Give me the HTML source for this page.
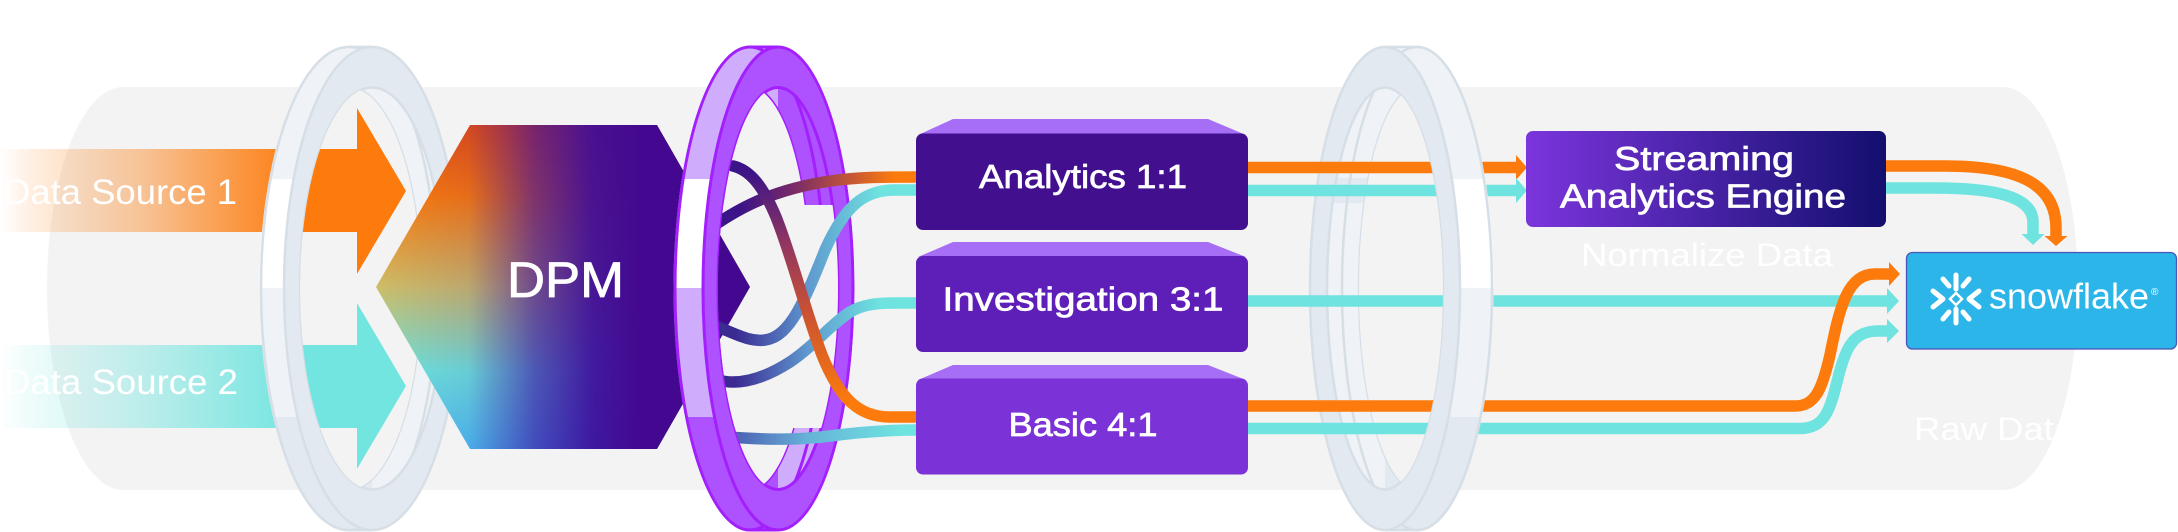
<!DOCTYPE html>
<html><head><meta charset="utf-8">
<style>
html,body{margin:0;padding:0;background:#fff;}
svg{display:block;}
text{font-family:"Liberation Sans",sans-serif;}
</style></head><body>
<svg width="2178" height="532" viewBox="0 0 2178 532" xmlns="http://www.w3.org/2000/svg">
<defs>
  <linearGradient id="gOr" gradientUnits="userSpaceOnUse" x1="0" y1="0" x2="300" y2="0">
    <stop offset="0" stop-color="#fd7b0c" stop-opacity="0"/>
    <stop offset="0.1" stop-color="#fd7b0c" stop-opacity="0.12"/>
    <stop offset="0.47" stop-color="#fd7b0c" stop-opacity="0.4"/>
    <stop offset="0.8" stop-color="#fd7b0c" stop-opacity="0.77"/>
    <stop offset="1" stop-color="#fd7b0c" stop-opacity="1"/>
  </linearGradient>
  <linearGradient id="gTe" gradientUnits="userSpaceOnUse" x1="0" y1="0" x2="300" y2="0">
    <stop offset="0" stop-color="#72e5e0" stop-opacity="0"/>
    <stop offset="0.1" stop-color="#72e5e0" stop-opacity="0.12"/>
    <stop offset="0.47" stop-color="#72e5e0" stop-opacity="0.42"/>
    <stop offset="0.8" stop-color="#72e5e0" stop-opacity="0.78"/>
    <stop offset="1" stop-color="#72e5e0" stop-opacity="1"/>
  </linearGradient>
  <linearGradient id="hexV" gradientUnits="userSpaceOnUse" x1="0" y1="125" x2="0" y2="449">
    <stop offset="0" stop-color="#e8500e"/>
    <stop offset="0.22" stop-color="#fd7b08"/>
    <stop offset="0.5" stop-color="#cdbd68"/>
    <stop offset="0.76" stop-color="#6ee6dc"/>
    <stop offset="1" stop-color="#4cc3f3"/>
  </linearGradient>
  <linearGradient id="hexH" gradientUnits="userSpaceOnUse" x1="376" y1="0" x2="640" y2="0">
    <stop offset="0" stop-color="#3b0ca0" stop-opacity="0"/>
    <stop offset="0.35" stop-color="#3b0ca0" stop-opacity="0.12"/>
    <stop offset="0.6" stop-color="#3b0ca0" stop-opacity="0.65"/>
    <stop offset="0.82" stop-color="#3d0b9a" stop-opacity="0.93"/>
    <stop offset="1" stop-color="#43088f" stop-opacity="1"/>
  </linearGradient>
  <linearGradient id="gL1" gradientUnits="userSpaceOnUse" x1="740" y1="0" x2="895" y2="0">
    <stop offset="0" stop-color="#3b1487"/>
    <stop offset="0.35" stop-color="#7a2a68"/>
    <stop offset="1" stop-color="#fd7b0c"/>
  </linearGradient>
  <linearGradient id="gL2" gradientUnits="userSpaceOnUse" x1="0" y1="172" x2="0" y2="405">
    <stop offset="0" stop-color="#3b1487"/>
    <stop offset="0.3" stop-color="#8f3562"/>
    <stop offset="0.62" stop-color="#cc5430"/>
    <stop offset="1" stop-color="#fd7b0c"/>
  </linearGradient>
  <linearGradient id="gL3" gradientUnits="userSpaceOnUse" x1="735" y1="0" x2="880" y2="0">
    <stop offset="0" stop-color="#3a2a92"/>
    <stop offset="0.5" stop-color="#5f98cf"/>
    <stop offset="1" stop-color="#6ee3df"/>
  </linearGradient>
  <linearGradient id="gL5" gradientUnits="userSpaceOnUse" x1="730" y1="0" x2="900" y2="0">
    <stop offset="0" stop-color="#4a5ab0"/>
    <stop offset="0.45" stop-color="#66b2d8"/>
    <stop offset="1" stop-color="#6ee3df"/>
  </linearGradient>
  <linearGradient id="gEng" gradientUnits="userSpaceOnUse" x1="1526" y1="0" x2="1886" y2="0">
    <stop offset="0" stop-color="#7b35dc"/>
    <stop offset="1" stop-color="#130f6e"/>
  </linearGradient>

  <clipPath id="fi1"><ellipse cx="372" cy="288.5" rx="72" ry="201"/></clipPath>
  <mask id="mk1" maskUnits="userSpaceOnUse" x="0" y="0" width="2178" height="532">
    <ellipse cx="349" cy="288.5" rx="89.5" ry="243" fill="#fff"/>
    <rect x="349" y="45.5" width="23" height="486" fill="#fff"/>
    <ellipse cx="372" cy="288.5" rx="89.5" ry="243" fill="#fff"/>
    <ellipse cx="349" cy="288.5" rx="72" ry="201" fill="#000" clip-path="url(#fi1)"/>
  </mask>
  <clipPath id="cl1"><rect x="0" y="0" width="372" height="532"/></clipPath>

  <clipPath id="fi2"><ellipse cx="778" cy="288.5" rx="60" ry="201"/></clipPath>
  <mask id="mk2" maskUnits="userSpaceOnUse" x="0" y="0" width="2178" height="532">
    <ellipse cx="750" cy="288.5" rx="76.5" ry="243" fill="#fff"/>
    <rect x="750" y="45.5" width="28" height="486" fill="#fff"/>
    <ellipse cx="778" cy="288.5" rx="76.5" ry="243" fill="#fff"/>
    <ellipse cx="750" cy="288.5" rx="60" ry="201" fill="#000" clip-path="url(#fi2)"/>
    <rect x="710" y="205" width="140" height="223" fill="#000" clip-path="url(#fi2)"/>
  </mask>
  <clipPath id="cl2"><rect x="0" y="0" width="778" height="532"/></clipPath>

  <clipPath id="fi3"><ellipse cx="1385" cy="288.5" rx="58" ry="201"/></clipPath>
  <mask id="mk3" maskUnits="userSpaceOnUse" x="0" y="0" width="2178" height="532">
    <ellipse cx="1417" cy="288.5" rx="76.5" ry="243" fill="#fff"/>
    <rect x="1385" y="45.5" width="32" height="486" fill="#fff"/>
    <ellipse cx="1385" cy="288.5" rx="76.5" ry="243" fill="#fff"/>
    <ellipse cx="1417" cy="288.5" rx="58" ry="201" fill="#000" clip-path="url(#fi3)"/>
  </mask>
  <clipPath id="cl3"><rect x="1400" y="0" width="200" height="532"/></clipPath>
</defs>

<path d="M123,87 H2003 A75,201.5 0 0 1 2003,490 H123 A76,201.5 0 0 1 123,87 Z" fill="#f3f3f3"/>

<g id="ring1" mask="url(#mk1)">
  <rect x="250" y="40" width="230" height="495" fill="#eff3f7"/>
  <rect x="250" y="179" width="122" height="109" fill="#ffffff"/>
  <rect x="250" y="417" width="122" height="120" fill="#e3e9f0"/>
  <ellipse cx="349" cy="288.5" rx="88" ry="241.5" fill="none" stroke="#d6dee6" stroke-width="2.5"/>
  <line x1="349" y1="47" x2="372" y2="47" stroke="#d6dee6" stroke-width="2.5"/>
  <line x1="349" y1="530" x2="372" y2="530" stroke="#d6dee6" stroke-width="2.5"/>
  <ellipse cx="349" cy="288.5" rx="72" ry="201" fill="none" stroke="#d6dee6" stroke-width="2.5" clip-path="url(#fi1)"/>
  <path fill-rule="evenodd" fill="#e3e9f0" stroke="#d6dee6" stroke-width="2.5"
    d="M284,288.5 a88,241.5 0 1,0 176,0 a88,241.5 0 1,0 -176,0 Z M300,288.5 a72,201 0 1,0 144,0 a72,201 0 1,0 -144,0 Z"/>
</g>

<g id="ring2" mask="url(#mk2)">
  <rect x="660" y="40" width="210" height="495" fill="#d0acfd"/>
  <rect x="660" y="179" width="118" height="109" fill="#ffffff"/>
  <rect x="660" y="417" width="118" height="120" fill="#ae52ff"/>
  <rect x="778" y="40" width="70" height="165" fill="#ae52ff" clip-path="url(#fi2)"/>
  <ellipse cx="750" cy="288.5" rx="75" ry="241.5" fill="none" stroke="#a31ffc" stroke-width="3"/>
  <line x1="750" y1="47" x2="778" y2="47" stroke="#a31ffc" stroke-width="3"/>
  <line x1="750" y1="530" x2="778" y2="530" stroke="#a31ffc" stroke-width="3"/>
  <ellipse cx="750" cy="288.5" rx="60" ry="201" fill="none" stroke="#a31ffc" stroke-width="3" clip-path="url(#fi2)"/>
  <path fill-rule="evenodd" fill="#ae52ff" stroke="#a31ffc" stroke-width="3"
    d="M703,288.5 a75,241.5 0 1,0 150,0 a75,241.5 0 1,0 -150,0 Z M718,288.5 a60,201 0 1,0 120,0 a60,201 0 1,0 -120,0 Z"/>
</g>

<g id="ring3" mask="url(#mk3)">
  <rect x="1300" y="40" width="210" height="495" fill="#eff3f7"/>
  <rect x="1385" y="179" width="120" height="109" fill="#ffffff"/>
  <rect x="1385" y="417" width="120" height="120" fill="#e3e9f0"/>
  <rect x="1320" y="178" width="65" height="25" fill="#e3e9f0" clip-path="url(#fi3)"/>
  <ellipse cx="1417" cy="288.5" rx="75" ry="241.5" fill="none" stroke="#d6dee6" stroke-width="2.5"/>
  <line x1="1385" y1="47" x2="1417" y2="47" stroke="#d6dee6" stroke-width="2.5"/>
  <line x1="1385" y1="530" x2="1417" y2="530" stroke="#d6dee6" stroke-width="2.5"/>
  <ellipse cx="1417" cy="288.5" rx="58" ry="201" fill="none" stroke="#d6dee6" stroke-width="2.5" clip-path="url(#fi3)"/>
  <path fill-rule="evenodd" fill="#e3e9f0" stroke="#d6dee6" stroke-width="2.5"
    d="M1310,288.5 a75,241.5 0 1,0 150,0 a75,241.5 0 1,0 -150,0 Z M1327,288.5 a58,201 0 1,0 116,0 a58,201 0 1,0 -116,0 Z"/>
</g>

<polygon points="0,149 357,149 357,108 406,191 357,274 357,232 0,232" fill="url(#gOr)"/>
<polygon points="0,345 357,345 357,303 406,386 357,469 357,428 0,428" fill="url(#gTe)"/>
<text x="4" y="204" font-size="35" fill="#fff" textLength="233" lengthAdjust="spacingAndGlyphs">Data Source 1</text>
<text x="4" y="394" font-size="35" fill="#fff" textLength="234" lengthAdjust="spacingAndGlyphs">Data Source 2</text>

<polygon points="470,125 657,125 750,287 657,449 470,449 376,287" fill="url(#hexV)"/>
<polygon points="470,125 657,125 750,287 657,449 470,449 376,287" fill="url(#hexH)"/>
<text x="565.5" y="297" font-size="50" fill="#fff" stroke="#fff" stroke-width="0.8" text-anchor="middle" textLength="117" lengthAdjust="spacingAndGlyphs">DPM</text>

<use href="#ring1" clip-path="url(#cl1)"/>

<g fill="none" stroke-width="11.5" stroke-linecap="round">
  <path d="M705,232 C735,210 770,190 830,181 C860,177 880,177 916,177" stroke="url(#gL1)"/>
  <path d="M718,327 C738,335 750,342 765,340 C790,337 805,300 825,250 C845,205 865,190 895,190 L916,190" stroke="url(#gL3)"/>
  <path d="M718,380 C740,386 765,378 790,362 C815,345 830,325 850,312 C862,305 875,303 895,303 L916,303" stroke="url(#gL3)"/>
  <path d="M733,166 C750,170 763,186 776,217 C792,257 805,310 822,355 C840,400 860,417 890,417 L916,417" stroke="url(#gL2)"/>
  <path d="M728,437 C770,440 800,440 830,436 C860,432 890,430 916,430" stroke="url(#gL5)"/>
</g>

<use href="#ring2" clip-path="url(#cl2)"/>

<polygon points="953,119 1208,119 1246,135 918,135" fill="#a66ef5"/>
<rect x="916" y="133.5" width="332" height="96.5" rx="7" fill="#42108f"/>
<text x="1083" y="188" font-size="33" fill="#fff" stroke="#fff" stroke-width="0.7" text-anchor="middle" textLength="208" lengthAdjust="spacingAndGlyphs">Analytics 1:1</text>

<polygon points="953,242 1208,242 1246,257 918,257" fill="#a66ef5"/>
<rect x="916" y="256" width="332" height="96" rx="7" fill="#5e1fb8"/>
<text x="1083" y="310.5" font-size="33" fill="#fff" stroke="#fff" stroke-width="0.7" text-anchor="middle" textLength="281" lengthAdjust="spacingAndGlyphs">Investigation 3:1</text>

<polygon points="953,365 1208,365 1246,380 918,380" fill="#a66ef5"/>
<rect x="916" y="378.5" width="332" height="96" rx="7" fill="#7b32d6"/>
<text x="1083" y="436" font-size="33" fill="#fff" stroke="#fff" stroke-width="0.7" text-anchor="middle" textLength="149" lengthAdjust="spacingAndGlyphs">Basic 4:1</text>

<g fill="none" stroke-width="11.5">
  <path d="M1248,167.5 H1519" stroke="#fd7b0c"/>
  <path d="M1248,190.5 H1519" stroke="#6ee3df"/>
  <path d="M1248,301 H1890" stroke="#6ee3df"/>
  <path d="M1248,428.5 H1800 C1825,428.5 1830,410 1838,378 C1846,345 1855,331 1878,331 H1890" stroke="#6ee3df"/>
  <path d="M1248,406 H1795 C1815,406 1822,390 1830,355 C1840,305 1848,274 1875,274 H1892" stroke="#fd7b0c"/>
</g>
<polygon points="1516,155 1527,167.5 1516,180" fill="#fd7b0c"/>
<polygon points="1516,178 1527,190.5 1516,203" fill="#6ee3df"/>
<polygon points="1887,288 1899,301 1887,314" fill="#6ee3df"/>
<polygon points="1887,319 1899,331 1887,343" fill="#6ee3df"/>
<polygon points="1889,262 1900,274 1889,286" fill="#fd7b0c"/>

<use href="#ring3" clip-path="url(#cl3)"/>

<rect x="1526" y="131" width="360" height="96" rx="7" fill="url(#gEng)"/>
<text x="1704" y="170" font-size="33" fill="#fff" stroke="#fff" stroke-width="0.7" text-anchor="middle" textLength="180" lengthAdjust="spacingAndGlyphs">Streaming</text>
<text x="1703" y="207.5" font-size="33" fill="#fff" stroke="#fff" stroke-width="0.7" text-anchor="middle" textLength="286" lengthAdjust="spacingAndGlyphs">Analytics Engine</text>

<text x="1707" y="266" font-size="32" fill="#fff" text-anchor="middle" textLength="252" lengthAdjust="spacingAndGlyphs">Normalize Data</text>
<text x="1914" y="440" font-size="32" fill="#fff" textLength="160" lengthAdjust="spacingAndGlyphs">Raw Data</text>

<g fill="none" stroke-width="11.5">
  <path d="M1886,188 H1935 C2005,188 2033,200 2033,222 V236" stroke="#6ee3df"/>
  <path d="M1886,166 H1945 C2020,166 2056,185 2056,228 V237" stroke="#fd7b0c"/>
</g>
<polygon points="2021.5,234 2033,245 2044.5,234" fill="#6ee3df"/>
<polygon points="2044.5,236 2056,246 2067.5,236" fill="#fd7b0c"/>

<rect x="1906.5" y="252.5" width="270" height="96.5" rx="6" fill="#2cb5e8" stroke="#4a55b8" stroke-width="1.3"/>
<g stroke="#fff" stroke-width="5" stroke-linecap="round" stroke-linejoin="round" fill="none">
  <line x1="1956" y1="275" x2="1956" y2="289"/>
  <line x1="1956" y1="309" x2="1956" y2="323"/>
  <line x1="1943" y1="279" x2="1949" y2="286"/>
  <line x1="1969" y1="279" x2="1963" y2="286"/>
  <line x1="1943" y1="319" x2="1949" y2="312"/>
  <line x1="1969" y1="319" x2="1963" y2="312"/>
  <path d="M1933,291 L1943,299 L1933,307"/>
  <path d="M1979,291 L1969,299 L1979,307"/>
</g>
<path d="M1956,293 L1962,299 L1956,305 L1950,299 Z" fill="none" stroke="#fff" stroke-width="2.5"/>
<text x="1989" y="308.5" font-size="36" fill="#fff" textLength="160" lengthAdjust="spacingAndGlyphs">snowflake</text>
<text x="2151" y="295" font-size="10" fill="#fff">®</text>
</svg>
</body></html>
